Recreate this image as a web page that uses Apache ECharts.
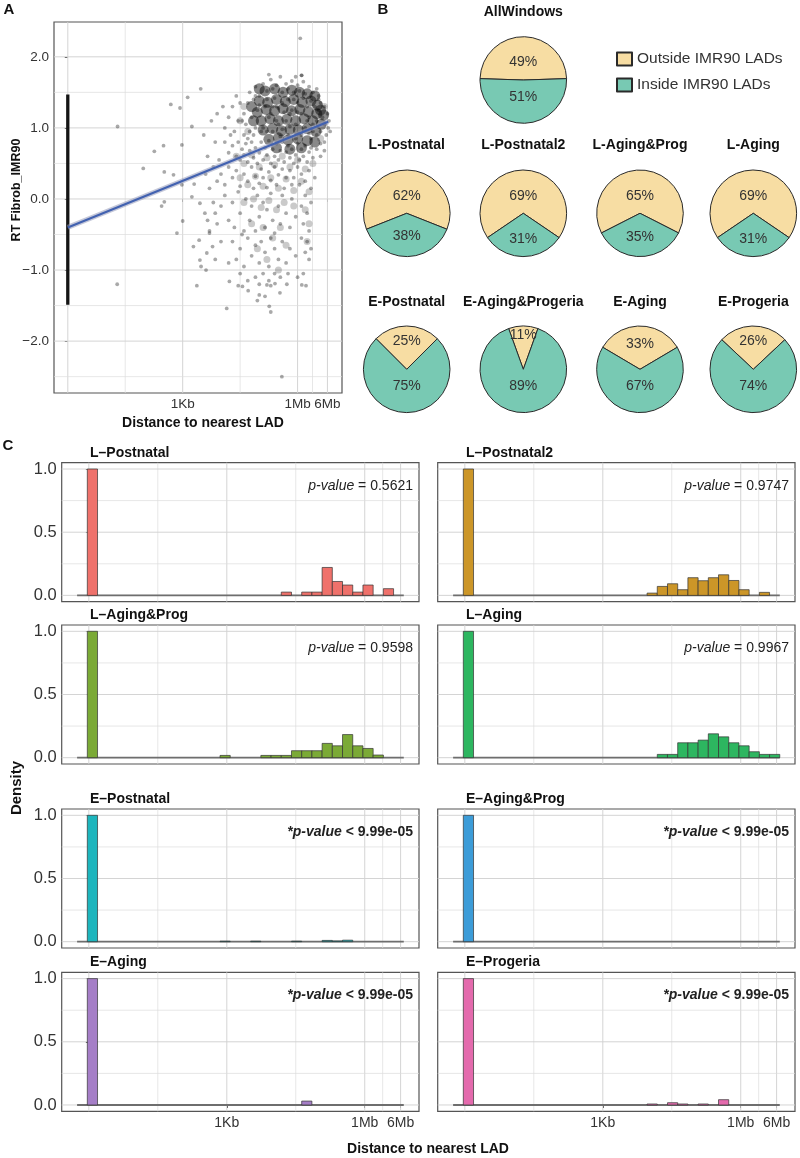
<!DOCTYPE html>
<html><head><meta charset="utf-8">
<script src="https://cdn.jsdelivr.net/npm/echarts@6/dist/echarts.min.js"></script>
<style>html,body{margin:0;padding:0;background:#fff}#c{width:800px;height:1158px}</style>
</head><body><div id="c"></div><script>
// ================= DATA =================
// ---- Panel A: x = log10(distance to nearest LAD + 1), y = RT Fibrob_IMR90
const windowPoints = [
 [1.30,1.02],[1.29,-1.20],[3.47,1.55],[3.13,1.43],[2.69,1.33],[2.93,1.28],[3.24,1.02],[2.98,0.76],[2.50,0.75],[2.26,0.67],
 [1.97,0.43],[2.52,0.38],[2.76,0.34],[2.45,-0.10],[2.52,-0.04],[2.85,-0.48],[3.00,-0.31],[3.28,-0.67],[3.43,-0.58],[3.45,-0.86],
 [3.48,-0.95],[3.37,-1.22],[3.61,-1.00],[3.63,-0.76],[3.30,0.21],[2.98,0.20],[3.24,0.03],[3.45,-0.06],[3.58,-0.20],[3.70,-0.48],
 [3.78,-0.67],[6.07,2.26],[6.11,1.74],[4.15,-1.54],[4.22,-1.16],[4.45,-1.22],[4.56,-1.23],[4.71,-1.29],[5.00,-1.20],[5.20,-1.21],
 [5.30,-1.22],[5.41,-1.19],[5.54,-1.32],[5.72,-1.20],[6.11,-1.21],[6.22,-1.22],[5.15,-1.37],[4.95,-1.43],[5.26,-1.51],[5.30,-1.59],
 [5.59,-2.50],
 [3.55,0.90],[3.65,0.60],[3.75,1.10],[3.60,0.35],[3.85,0.80],[3.90,1.20],[3.95,0.55],[3.70,0.15],[3.80,-0.05],[3.90,-0.35],
 [3.65,-0.30],[4.00,-0.60],[3.85,-0.85],[4.05,1.30],[4.10,1.00],[4.20,1.15],[4.30,1.30],[4.40,1.45],[4.50,1.35],[4.35,0.95],
 [4.45,1.10],[4.25,0.90],
 [4.75,1.50],[4.90,1.58],[5.00,1.45],[5.10,1.62],[5.20,1.52],[5.30,1.68],[5.35,1.55],[5.45,1.60],[5.55,1.72],[5.60,1.50],
 [5.70,1.62],[5.75,1.55],[5.85,1.66],[5.90,1.50],[6.00,1.60],[6.05,1.52],[6.15,1.65],[6.20,1.48],[6.30,1.58],[6.40,1.50],
 [6.50,1.55],[6.55,1.45],[5.25,1.75],[5.95,1.72],[6.10,1.74],
 [4.60,1.20],[4.65,1.05],[4.70,1.35],[4.75,0.95],[4.80,1.15],[4.85,1.40],[4.90,1.00],[4.95,1.25],[4.70,0.85],[4.85,0.90],
 [5.00,1.32],[5.05,0.95],[4.55,1.10],[4.60,0.90],[4.90,1.45],
 [6.45,1.30],[6.50,1.10],[6.55,1.25],[6.60,0.95],[6.60,1.35],[6.65,1.15],[6.70,1.05],[6.70,1.30],[6.75,0.90],[6.78,1.20],
 [6.80,1.00],[6.82,1.10],[6.50,0.90],[6.55,1.40],[6.40,0.95],[6.85,0.95],[6.70,0.80],[6.60,0.78],
 [5.15,1.30],[5.25,1.15],[5.35,0.95],[5.45,1.10],[5.50,1.28],[5.60,0.98],[5.65,1.22],[5.75,1.40],[5.80,1.02],[5.85,1.25],
 [5.95,1.05],[6.00,1.35],[6.05,0.92],[6.10,1.20],[6.20,1.00],[6.25,1.30],[6.30,0.92],[6.35,1.38],[5.20,0.95],[5.40,1.42],
 [5.55,0.88],[5.70,1.10],[5.90,1.40],[6.15,1.42],[6.30,1.15],[5.30,1.20],[5.45,1.30],[5.60,1.35],[5.80,1.20],[6.00,1.22],
 [5.10,1.00],[5.20,1.40],[5.35,1.30],[5.50,1.05],[5.75,0.90],[5.95,0.85],[6.10,0.90],[6.25,1.10],[6.40,1.05],[6.35,0.85],
 [4.30,0.75],[4.40,0.60],[4.45,0.80],[4.50,0.55],[4.55,0.70],[4.60,0.62],[4.65,0.78],[4.70,0.52],[4.75,0.68],[4.80,0.80],
 [4.85,0.58],[4.90,0.72],[4.95,0.50],[5.00,0.65],[5.05,0.80],[5.10,0.55],[5.15,0.72],[5.20,0.62],[5.25,0.82],[5.30,0.50],
 [5.35,0.70],[5.40,0.60],[5.45,0.78],[5.50,0.55],[5.55,0.68],[5.60,0.80],[5.65,0.52],[5.70,0.66],[5.75,0.75],[5.80,0.58],
 [5.85,0.70],[5.90,0.50],[5.95,0.62],[6.00,0.78],[6.05,0.55],[6.10,0.70],[6.15,0.60],[6.20,0.75],[6.25,0.52],[6.30,0.66],
 [6.35,0.72],[6.40,0.58],[6.50,0.70],[6.60,0.60],[6.70,0.68],[4.20,0.65],[4.10,0.80],
 [4.00,0.35],[4.10,0.20],[4.20,0.45],[4.30,0.30],[4.40,0.40],[4.50,0.18],[4.60,0.35],[4.70,0.25],[4.80,0.45],[4.85,0.15],
 [4.90,0.32],[5.00,0.22],[5.05,0.42],[5.10,0.30],[5.20,0.16],[5.25,0.38],[5.30,0.26],[5.40,0.45],[5.45,0.20],[5.50,0.34],
 [5.60,0.42],[5.65,0.15],[5.70,0.30],[5.80,0.40],[5.85,0.20],[5.90,0.30],[6.00,0.45],[6.05,0.20],[6.10,0.35],[6.20,0.25],
 [6.30,0.40],[6.35,0.15],[6.45,0.30],[3.90,0.25],[3.80,0.45],
 [4.00,-0.10],[4.10,0.05],[4.20,-0.30],[4.30,-0.05],[4.35,-0.40],[4.45,0.10],[4.50,-0.20],[4.60,-0.45],[4.65,0.00],[4.75,-0.30],
 [4.80,-0.10],[4.90,-0.45],[4.95,0.05],[5.00,-0.25],[5.10,-0.05],[5.15,-0.40],[5.20,-0.15],[5.30,0.08],[5.35,-0.30],[5.40,-0.48],
 [5.50,-0.10],[5.55,-0.35],[5.60,0.05],[5.70,-0.20],[5.80,-0.40],[5.85,0.00],[5.95,-0.25],[6.10,-0.10],[6.15,-0.35],[6.20,0.05],
 [6.25,-0.20],[6.30,-0.45],[6.35,-0.05],[3.85,-0.20],[3.70,-0.45],
 [4.30,-0.60],[4.40,-0.85],[4.50,-0.70],[4.60,-0.95],[4.70,-0.55],[4.80,-0.80],[4.90,-0.65],[5.00,-0.90],[5.05,-0.60],[5.15,-0.75],
 [5.25,-0.95],[5.30,-0.55],[5.40,-0.70],[5.50,-0.85],[5.60,-0.60],[5.70,-0.90],[5.80,-0.70],[6.10,-0.55],[6.20,-0.75],[6.25,-0.60],
 [6.30,-0.85],[6.35,-0.70],[4.20,-0.90],[5.95,-0.80],[4.55,-0.50],
 [4.50,-1.05],[4.70,-1.15],[4.90,-1.10],[5.00,-1.35],[5.10,-1.05],[5.25,-1.15],[5.40,-1.05],[5.55,-1.10],[5.75,-1.05],[6.00,-1.10],[6.15,-1.05]
];
// densest part of the cloud (many overlapping windows)
const coreDensePoints = [
 [5.15,1.52],[5.40,1.55],[5.62,1.50],[5.85,1.53],[6.05,1.50],[6.25,1.48],[5.00,1.55],[6.45,1.45],
 [5.00,1.38],[5.22,1.36],[5.45,1.40],[5.68,1.37],[5.90,1.40],[6.12,1.36],[6.35,1.38],[6.52,1.32],[4.80,1.30],
 [4.95,1.22],[5.18,1.26],[5.40,1.24],[5.62,1.27],[5.84,1.24],[6.06,1.26],[6.28,1.23],[6.50,1.20],[6.68,1.18],[6.60,1.25],
 [5.05,1.10],[5.28,1.13],[5.50,1.10],[5.72,1.12],[5.95,1.10],[6.17,1.13],[6.40,1.10],[6.62,1.05],[4.85,1.10],
 [5.10,0.97],[5.35,0.99],[5.58,0.96],[5.80,0.98],[6.02,0.97],[6.25,0.99],[6.48,0.95],
 [5.25,0.84],[5.50,0.86],[5.75,0.83],[6.00,0.85],[6.25,0.82],[6.45,0.80],
 [5.45,0.72],[5.80,0.70],[6.10,0.72]
];
// moderately dense part of the cloud
const midDensePoints = [
 [4.40,0.60],[4.60,0.50],[4.80,0.62],[5.00,0.45],[5.20,0.58],[5.40,0.48],[5.60,0.60],[5.80,0.45],[6.00,0.55],[6.20,0.42],[6.40,0.50],
 [4.50,0.30],[4.70,0.20],[4.90,0.32],[5.10,0.18],[5.30,0.30],[5.50,0.15],[5.70,0.28],[5.90,0.12],[6.10,0.25],[6.30,0.10],
 [4.60,-0.05],[4.85,0.00],[5.05,-0.12],[5.25,-0.02],[5.45,-0.15],[5.65,-0.05],[5.90,-0.10],[6.20,-0.15],[6.30,-0.35],
 [4.80,-0.35],[5.10,-0.40],[5.35,-0.55],[5.55,-0.40],[5.70,-0.65],[4.95,-0.70],[6.25,-0.60],[5.20,-0.85],[5.50,-1.00],
 [4.60,1.30],[4.70,0.95],[4.50,1.10],[6.60,0.85],[6.70,1.30]
];
const zeroDistanceColumn = [[0,-1.49],[0,1.47]];
const fitLine = [[0,-0.40],[6.80,1.087]];
const aYBreaks = [-2,-1,0,1,2];
const aYMinor = [-2.5,-1.5,-0.5,0.5,1.5];
const xBreaks = [3,6,6.78];
const xBreakLabels = ['1Kb','1Mb','6Mb'];
const xGridMajor = [0,3,6,6.78];
const xGridMinor = [1.5,4.5,6.39];

// ---- Panel B: pies
const pieGroups = ['AllWindows','L-Postnatal','L-Postnatal2','L-Aging&Prog','L-Aging','E-Postnatal','E-Aging&Progeria','E-Aging','E-Progeria'];
const outsidePct = [49,62,69,65,69,25,11,33,26];
const insidePct  = [51,38,31,35,31,75,89,67,74];
const legendNames = ['Outside IMR90 LADs','Inside IMR90 LADs'];

// ---- Panel C: density per histogram bin (bins 0..30 of log10 distance)
const histGroups = ['L\u2013Postnatal','L\u2013Postnatal2','L\u2013Aging&Prog','L\u2013Aging','E\u2013Postnatal','E\u2013Aging&Prog','E\u2013Aging','E\u2013Progeria'];
const densLPostnatal  = [1.000,0,0,0,0,0,0,0,0,0,0,0,0,0,0,0,0,0,0,0.026,0,0.026,0.026,0.221,0.110,0.082,0.026,0.082,0,0.053,0];
const densLPostnatal2 = [1.000,0,0,0,0,0,0,0,0,0,0,0,0,0,0,0,0,0,0.018,0.071,0.092,0.045,0.140,0.116,0.140,0.163,0.118,0.045,0,0.024,0];
const densLAgingProg  = [1.000,0,0,0,0,0,0,0,0,0,0,0,0,0.018,0,0,0,0.018,0.018,0.018,0.055,0.055,0.055,0.113,0.094,0.183,0.094,0.073,0.021,0,0];
const densLAging      = [1.000,0,0,0,0,0,0,0,0,0,0,0,0,0,0,0,0,0,0,0.026,0.026,0.118,0.118,0.139,0.189,0.165,0.118,0.094,0.047,0.026,0.026];
const densEPostnatal  = [1.000,0,0,0,0,0,0,0,0,0,0,0,0,0.004,0,0,0.004,0,0,0,0.004,0,0,0.010,0.006,0.012,0,0,0,0,0];
const densEAgingProg  = [1.000,0,0,0,0,0,0,0,0,0,0,0,0,0,0,0,0,0,0,0,0,0,0,0,0,0,0,0,0,0,0];
const densEAging      = [1.000,0,0,0,0,0,0,0,0,0,0,0,0,0,0,0,0,0,0,0,0,0.031,0,0,0,0,0,0,0,0,0];
const densEProgeria   = [1.000,0,0,0,0,0,0,0,0,0,0,0,0,0,0,0,0,0,0.008,0,0.018,0.008,0,0.008,0,0.042,0,0,0,0,0];
const pValues = ['= 0.5621','= 0.9747','= 0.9598','= 0.9967','< 9.99e-05','< 9.99e-05','< 9.99e-05','< 9.99e-05'];
const pSignificant = [false,false,false,false,true,true,true,true];
const cYBreaks = [0,0.5,1];
const cYMinor = [0.25,0.75];

// ================= LAYOUT / STYLE =================
const FONT = '"Liberation Sans", Arial, Helvetica, sans-serif';
const BIN0 = -0.033, BINW = 0.222;
const densities = [densLPostnatal,densLPostnatal2,densLAgingProg,densLAging,densEPostnatal,densEAgingProg,densEAging,densEProgeria];
const histColors = ['#EF716B','#CC9628','#7BAA36','#2DB660','#1DB5BD','#3C9CD8','#A57EC7','#E46AAD'];
const colX = [61.7, 437.7], panelW = 357.3;
const rowY = [462.7, 625, 809, 972.3], panelH = 139;
const pieCenters = [[523.3,80],[406.7,213.3],[523.3,213.3],[640,213.3],[753.3,213.3],[406.7,369.3],[523.3,369.3],[640,369.3],[753.3,369.3]];
const pieTitleY = [11.7,145,145,145,145,301.7,301.7,301.7,301.7];
const PIE_R = 43.3;
const YELLOW = '#F7DDA3', GREEN = '#78C9B3';
// radial position of a slice label (fraction of radius), ggplot-like: small slices pushed outward
const labelRadius = p => 0.4 + Math.max(0, 0.5 - p/100) * 1.0;

const chart = echarts.init(document.getElementById('c'), null, {renderer:'canvas'});

const grids = [{left:54, top:22, width:288, height:371, show:true, borderColor:'#555', borderWidth:1.2, backgroundColor:'#fff'}];
const xFmt = v => { const i = xBreaks.findIndex(b => Math.abs(b - v) < 1e-6); return i < 0 ? '' : xBreakLabels[i]; };
const xAxes = [{gridIndex:0, type:'value', min:-0.36, max:7.16, axisLine:{show:false}, splitLine:{show:false},
  axisTick:{show:true, customValues:xBreaks, length:3, lineStyle:{color:'#444'}},
  axisLabel:{show:true, customValues:xBreaks, formatter:xFmt, fontSize:13.5, color:'#333', fontFamily:FONT, margin:4}}];
const yAxes = [{gridIndex:0, type:'value', min:-2.73, max:2.49, axisLine:{show:false}, splitLine:{show:false},
  axisTick:{show:true, customValues:aYBreaks, length:3, lineStyle:{color:'#444'}},
  axisLabel:{show:true, customValues:aYBreaks, formatter:v=>(v<0?'\u2212':'')+Math.abs(v).toFixed(1), fontSize:13.5, color:'#333', fontFamily:FONT, margin:5}}];

function gridLineSeries(gi, vx, vxMinor, vy, vyMinor){
  const data = [];
  vx.forEach(v=>data.push([v,1,0])); vxMinor.forEach(v=>data.push([v,1,1]));
  vy.forEach(v=>data.push([v,0,0])); vyMinor.forEach(v=>data.push([v,0,1]));
  return {type:'custom', xAxisIndex:gi, yAxisIndex:gi, silent:true, z:1, data,
    renderItem:(params, api)=>{
      const cs = params.coordSys; const v = api.value(0), vert = api.value(1), minor = api.value(2);
      const st = {stroke: minor? '#dcdcdc':'#d2d2d2', lineWidth: minor?0.7:0.95};
      if (vert){ const x = api.coord([v, 0])[0]; return {type:'line', shape:{x1:x,y1:cs.y,x2:x,y2:cs.y+cs.height}, style:st}; }
      const y = api.coord([0, v])[1]; return {type:'line', shape:{x1:cs.x,y1:y,x2:cs.x+cs.width,y2:y}, style:st};
    }};
}

const series = [];
series.push(gridLineSeries(0, xGridMajor, xGridMinor, aYBreaks, aYMinor));
series.push({type:'scatter', xAxisIndex:0, yAxisIndex:0, data:midDensePoints, symbolSize:7, silent:true, z:3,
  itemStyle:{color:'rgba(0,0,0,0.26)'}});
series.push({type:'scatter', xAxisIndex:0, yAxisIndex:0, data:coreDensePoints, symbolSize:11, silent:true, z:3,
  itemStyle:{color:'rgba(0,0,0,0.58)'}});
series.push({type:'scatter', xAxisIndex:0, yAxisIndex:0, data:windowPoints, symbolSize:3.8, silent:true, z:3,
  itemStyle:{color:'rgba(0,0,0,0.42)'}});
series.push({type:'line', xAxisIndex:0, yAxisIndex:0, data:zeroDistanceColumn, symbol:'none', silent:true, z:3,
  lineStyle:{color:'#141414', width:3.3}});
series.push({type:'line', xAxisIndex:0, yAxisIndex:0, data:fitLine, symbol:'none', silent:true, z:4,
  lineStyle:{color:'rgba(150,155,185,0.55)', width:5}});
series.push({type:'line', xAxisIndex:0, yAxisIndex:0, data:fitLine, symbol:'none', silent:true, z:5,
  lineStyle:{color:'#4262B0', width:2.2}});

// Histogram panels
histGroups.forEach((g, k)=>{
  const r = Math.floor(k/2), c = k%2, gi = k+1;
  const bottom = r===3, left = c===0;
  grids.push({left:colX[c], top:rowY[r], width:panelW, height:panelH, show:true, borderColor:'#555', borderWidth:1.2, backgroundColor:'#fff'});
  xAxes.push({gridIndex:gi, type:'value', min:-0.59, max:7.18, axisLine:{show:false}, splitLine:{show:false},
    axisTick:{show:bottom, customValues:xBreaks, length:3, lineStyle:{color:'#444'}},
    axisLabel:{show:bottom, customValues:xBreaks, formatter:xFmt, fontSize:14, color:'#333', fontFamily:FONT, margin:5}});
  yAxes.push({gridIndex:gi, type:'value', min:-0.05, max:1.05, axisLine:{show:false}, splitLine:{show:false},
    axisTick:{show:left, customValues:cYBreaks, length:3, lineStyle:{color:'#444'}},
    axisLabel:{show:left, customValues:cYBreaks, formatter:v=>v.toFixed(1), fontSize:16.5, color:'#333', fontFamily:FONT, margin:5}});
  series.push(gridLineSeries(gi, xGridMajor, xGridMinor, cYBreaks, cYMinor));
  series.push({type:'line', xAxisIndex:gi, yAxisIndex:gi, data:[[BIN0-BINW,0],[BIN0+31*BINW,0]], symbol:'none', silent:true, z:2,
    lineStyle:{color:'#6e6e6e', width:1.8}});
  const col = histColors[k];
  series.push({type:'custom', xAxisIndex:gi, yAxisIndex:gi, silent:true, z:3,
    data: densities[k].map((d,i)=>[i,d]),
    renderItem:(params, api)=>{
      const i = api.value(0), d = api.value(1);
      if (!d) return null;
      const x0 = BIN0 + i*BINW, x1 = x0 + BINW;
      const p0 = api.coord([x0, d]), p1 = api.coord([x1, 0]);
      return {type:'rect', shape:{x:p0[0], y:p0[1], width:p1[0]-p0[0], height:p1[1]-p0[1]},
        style:{fill:col, stroke:'#333', lineWidth:0.7}};
    }});
});

// Pies
pieGroups.forEach((g,i)=>{
  series.push({type:'pie', center:pieCenters[i], radius:PIE_R, startAngle:90 + 3.6*outsidePct[i]/2, clockwise:true,
    silent:true, avoidLabelOverlap:false, animation:false, emphasis:{disabled:true},
    label:{show:false}, labelLine:{show:false},
    itemStyle:{borderColor:'#2a2a2a', borderWidth:1},
    data:[{name:legendNames[0], value:outsidePct[i], itemStyle:{color:YELLOW}},
          {name:legendNames[1], value:insidePct[i], itemStyle:{color:GREEN}}]});
});

// Texts
const graphic = [];
const txt = (x,y,text,opt={}) => graphic.push({type:'text', x, y, rotation:opt.rot||0, silent:true, z:100,
  style:Object.assign({text, fontFamily:FONT, fontSize:14, fontWeight:'normal', fill:'#111', align:'center', verticalAlign:'middle'}, opt.style||{})});
txt(9,10,'A',{style:{fontWeight:'bold',fontSize:15}});
txt(383,10,'B',{style:{fontWeight:'bold',fontSize:15}});
txt(8,446,'C',{style:{fontWeight:'bold',fontSize:15}});
txt(16.5,190,'RT Fibrob_IMR90',{rot:Math.PI/2, style:{fontWeight:'bold',fontSize:12.5}});
txt(203,423,'Distance to nearest LAD',{style:{fontWeight:'bold',fontSize:14}});
pieGroups.forEach((g,i)=>{
  const [cx,cy] = pieCenters[i];
  txt(cx, pieTitleY[i], g, {style:{fontWeight:'bold',fontSize:14}});
  txt(cx, cy - labelRadius(outsidePct[i])*PIE_R, outsidePct[i]+'%', {style:{fontSize:14, fill:'#333'}});
  txt(cx, cy + labelRadius(insidePct[i])*PIE_R, insidePct[i]+'%', {style:{fontSize:14, fill:'#333'}});
});
histGroups.forEach((g,k)=>{
  const r = Math.floor(k/2), c = k%2;
  txt(colX[c]+28.3, rowY[r]-10, g, {style:{fontWeight:'bold',fontSize:14,align:'left'}});
  const sig = pSignificant[k];
  graphic.push({type:'text', x:colX[c]+panelW-6, y:rowY[r]+23, silent:true, z:100,
    style:{text: sig ? '{a|*p-value}{b| '+pValues[k]+'}' : '{a|p-value}{b| '+pValues[k]+'}',
      align:'right', verticalAlign:'middle', fontFamily:FONT, fontSize:14, fill:'#222',
      rich:{a:{fontFamily:FONT, fontSize:14, fontStyle:'italic', fontWeight: sig?'bold':'normal', fill:'#222'},
            b:{fontFamily:FONT, fontSize:14, fontWeight: sig?'bold':'normal', fill:'#222'}}}});
});
txt(17,788,'Density',{rot:Math.PI/2, style:{fontWeight:'bold',fontSize:15}});
txt(428,1149,'Distance to nearest LAD',{style:{fontWeight:'bold',fontSize:14}});

chart.setOption({
  animation:false,
  backgroundColor:'#fff',
  legend:{data:legendNames, orient:'vertical', left:611, top:46, itemWidth:15, itemHeight:13, itemGap:10, icon:'rect',
    selectedMode:false, textStyle:{fontSize:15.5, color:'#333', fontFamily:FONT}},
  grid:grids, xAxis:xAxes, yAxis:yAxes, series, graphic
});
</script></body></html>
